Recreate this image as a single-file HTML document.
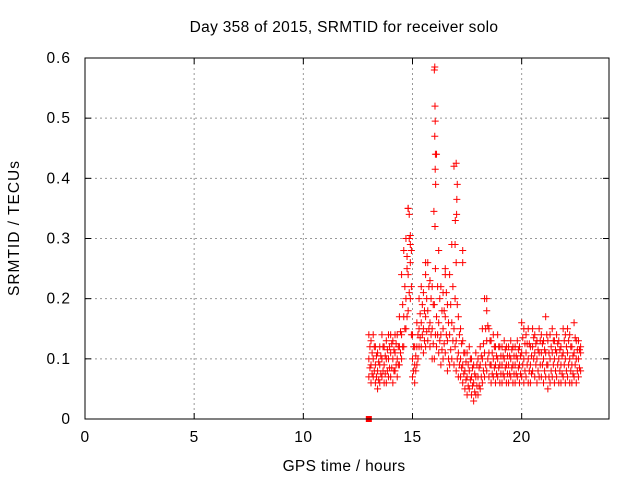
<!DOCTYPE html>
<html><head><meta charset="utf-8"><style>
body{margin:0;background:#fff}
svg{display:block;font-family:"Liberation Sans",sans-serif}
</style></head><body>
<svg id="chart" width="640" height="480" viewBox="0 0 640 480">
<rect width="640" height="480" fill="#fff"/>
<text x="344" y="32" font-size="15.5" text-anchor="middle" letter-spacing="0.3">Day 358 of 2015, SRMTID for receiver solo</text>
<text x="0" y="0" font-size="15.5" text-anchor="middle" letter-spacing="1" transform="translate(19,228) rotate(-90)">SRMTID / TECUs</text>
<text x="344" y="471" font-size="15.5" text-anchor="middle" letter-spacing="0.3">GPS time / hours</text>
<g id="grid"></g>
<g id="marks"></g>
<rect x="85" y="58" width="524" height="361" fill="none" stroke="#000"/>
<g id="ticks"></g>
</svg>
<script>
const xTicks=[0,5,10,15,20];
const yTicks=[0,0.1,0.2,0.3,0.4,0.5,0.6];
const yTickLabels=["0","0.1","0.2","0.3","0.4","0.5","0.6"];
const tStart=13.0, tStep=0.1, tStart2=13.05;
const lowVals=[.07,.06,.07,.06,.05,.06,.07,.06,.06,.07,
.07,.06,.08,.07,.09,.10,.12,.15,.18,.20,
.07,.06,.09,.12,.12,.11,.12,.13,.12,.10,
.10,.12,.11,.09,.10,.11,.08,.09,.10,.09,
.08,.07,.07,.06,.05,.04,.05,.04,.03,.04,
.04,.05,.06,.07,.08,.07,.06,.07,.06,.07,
.06,.06,.07,.06,.06,.07,.06,.06,.07,.06,
.07,.06,.07,.06,.06,.08,.07,.06,.07,.07,
.06,.07,.05,.06,.07,.06,.07,.06,.06,.07,
.06,.07,.06,.06,.07,.06,.07,.08];
const midVals=[.10,.09,.10,.09,.08,.09,.10,.09,.10,.10,
.11,.10,.11,.10,.12,.14,.17,.20,.24,.26,
.10,.09,.12,.15,.16,.15,.17,.18,.16,.15,
.19,.17,.16,.14,.15,.17,.13,.14,.16,.15,
.13,.11,.10,.09,.08,.07,.08,.07,.06,.07,
.07,.09,.10,.11,.13,.11,.09,.10,.09,.10,
.09,.09,.10,.09,.09,.10,.09,.09,.10,.09,
.11,.10,.11,.10,.09,.12,.11,.10,.11,.11,
.10,.11,.09,.10,.11,.10,.11,.10,.09,.11,
.10,.11,.10,.09,.11,.10,.10,.11];
const highVals=[.14,.13,.14,.12,.11,.12,.14,.12,.13,.14,
.14,.13,.14,.14,.17,.24,.28,.30,.35,.29,
.14,.12,.16,.20,.22,.21,.24,.26,.23,.22,
.58,.44,.28,.22,.21,.25,.19,.24,.29,.42,
.26,.17,.15,.13,.11,.11,.12,.10,.09,.11,
.10,.12,.15,.20,.18,.15,.13,.14,.12,.14,
.12,.12,.13,.12,.12,.13,.12,.12,.13,.12,
.16,.15,.14,.15,.12,.15,.14,.13,.15,.14,
.13,.17,.13,.14,.15,.13,.14,.13,.12,.15,
.14,.15,.14,.12,.16,.13,.13,.12];
const lowVals2=[.085,.075,.08,.07,.065,.075,.08,.075,.08,.085,
.085,.08,.09,.09,.11,.12,.15,.17,.21,.14,
.08,.08,.10,.135,.14,.13,.145,.15,.14,.125,
.14,.14,.13,.115,.125,.14,.10,.115,.13,.12,
.10,.09,.085,.075,.065,.055,.065,.055,.045,.055,
.055,.07,.08,.09,.10,.09,.075,.085,.075,.085,
.075,.075,.085,.075,.075,.085,.075,.075,.085,.075,
.09,.08,.09,.08,.075,.10,.09,.08,.09,.09,
.08,.09,.07,.08,.09,.08,.09,.08,.075,.09,
.08,.09,.08,.075,.09,.08,.085];
const highVals2=[.12,.11,.12,.105,.095,.105,.12,.105,.115,.12,
.125,.115,.125,.12,.145,.19,.22,.25,.30,.22,
.12,.105,.14,.175,.19,.18,.20,.22,.20,.19,
.25,.22,.20,.18,.18,.21,.16,.19,.22,.20,
.19,.14,.125,.11,.095,.09,.10,.085,.075,.09,
.085,.105,.125,.15,.155,.13,.11,.12,.105,.12,
.105,.105,.115,.105,.105,.115,.105,.105,.115,.105,
.135,.125,.125,.125,.105,.135,.125,.115,.13,.125,
.115,.14,.11,.12,.13,.115,.125,.115,.105,.13,
.12,.13,.12,.105,.135,.115,.115];
const spikeTimes=[16.02,16.03,16.04,16.02,16.05,16.04,16.06,15.98,16.03,17.0,17.05,17.03,17.02,16.96,16.95,14.8,14.85,14.9,14.95,17.3,17.3,18.4,14.75,15.6,16.5];
const spikeVals=[.585,.52,.495,.47,.44,.415,.39,.345,.32,.425,.39,.365,.34,.33,.29,.35,.34,.305,.28,.28,.26,.2,.27,.26,.24];
const X=t=>85+t*(524/24);
const Y=v=>419-v*(361/0.6);
const NS="http://www.w3.org/2000/svg";
const grid=document.getElementById('grid'),ticks=document.getElementById('ticks'),marks=document.getElementById('marks');
function mk(tag,attrs,parent){const e=document.createElementNS(NS,tag);for(const k in attrs)e.setAttribute(k,attrs[k]);parent.appendChild(e);return e;}
xTicks.forEach((t,i)=>{
  if(t>0){const g=mk('line',{x1:X(t),x2:X(t),y1:58,y2:419,stroke:'#999','stroke-dasharray':'2,3'},grid);
  
  }
  mk('line',{x1:X(t),x2:X(t),y1:419,y2:413,stroke:'#000'},ticks);
  mk('line',{x1:X(t),x2:X(t),y1:58,y2:64,stroke:'#000'},ticks);
  const l=mk('text',{x:X(t),y:442,'font-size':15.5,'text-anchor':'middle','letter-spacing':0.5},ticks);l.textContent=t;
  
  
});
yTicks.forEach((v,i)=>{
  if(v>0){const g=mk('line',{x1:85,x2:609,y1:Y(v),y2:Y(v),stroke:'#999','stroke-dasharray':'2,3'},grid);
  
  }
  mk('line',{x1:85,x2:91,y1:Y(v),y2:Y(v),stroke:'#000'},ticks);
  mk('line',{x1:609,x2:603,y1:Y(v),y2:Y(v),stroke:'#000'},ticks);
  const l=mk('text',{x:71,y:Y(v)+5,'font-size':15.5,'text-anchor':'end','letter-spacing':1},ticks);l.textContent=yTickLabels[i];
  
  
});
function plus(t,v,color){
  const x=X(t),y=Y(v);
  const p=mk('path',{d:`M${x-3.5},${y}h7M${x},${y-3.5}v7`,stroke:color,'stroke-width':1,fill:'none'},marks);
  
  
}
[lowVals,midVals,highVals].forEach(arr=>arr.forEach((v,i)=>plus(tStart+i*tStep,v,'#f00')));
[lowVals2,highVals2].forEach(arr=>arr.forEach((v,i)=>plus(tStart2+i*tStep,v,'#f00')));
spikeTimes.forEach((t,i)=>plus(t,spikeVals[i],'#f00'));
const sq=mk('rect',{x:X(13)-3,y:Y(0)-3,width:6,height:6,fill:'#f00'},marks);


</script>
</body></html>
